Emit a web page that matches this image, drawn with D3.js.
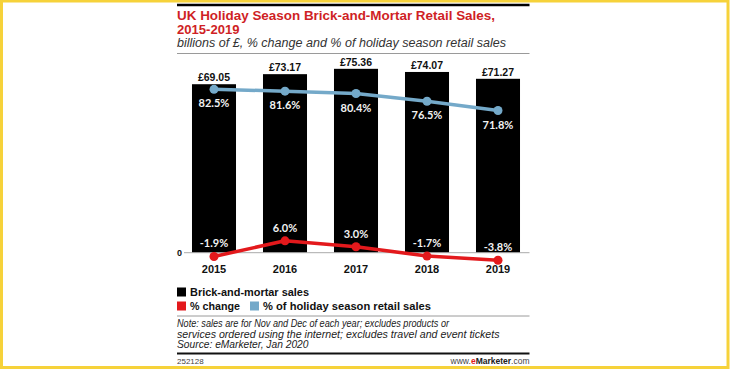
<!DOCTYPE html>
<html>
<head>
<meta charset="utf-8">
<script src="https://cdn.jsdelivr.net/npm/d3@7"></script>
<style>
  body { margin: 0; background: #fff; }
  svg { display: block; font-family: "Liberation Sans", Arial, sans-serif; }
</style>
</head>
<body>
<svg id="chart"></svg>
<script>
const WIDTH = 732;
const HEIGHT = 371;

// Data.
const years = ['2015', '2016', '2017', '2018', '2019'];
const sales = [69.05, 73.17, 75.36, 74.07, 71.27];
const pctChange = [-1.9, 6.0, 3.0, -1.7, -3.8];
const pctOfHoliday = [82.5, 81.6, 80.4, 76.5, 71.8];

const legendItems = [
  {label: 'Brick-and-mortar sales', color: '#000'},
  {label: '% change', color: '#e3191c'},
  {label: '% of holiday season retail sales', color: '#74a9c9'}
];
const noteLines = [
  'Note: sales are for Nov and Dec of each year; excludes products or',
  'services ordered using the internet; excludes travel and event tickets',
  'Source: eMarketer, Jan 2020'
];

const RED = '#e3191c';
const BLUE = '#74a9c9';
const LEFT = 177;
const RIGHT = 529.5;
const BASE_Y = 252.7;

const svg = d3
  .select('#chart')
  .attr('width', WIDTH)
  .attr('height', HEIGHT)
  .attr('viewBox', `0 0 ${WIDTH} ${HEIGHT}`);

// Yellow frame round the picture.
svg.append('rect')
  .attr('x', 1.5).attr('y', 1)
  .attr('width', 726.5).attr('height', 366.5)
  .attr('fill', 'none')
  .attr('stroke', '#f6d23a')
  .attr('stroke-width', 3);

// Header.
svg.append('line')
  .attr('x1', LEFT).attr('x2', RIGHT)
  .attr('y1', 5).attr('y2', 5)
  .attr('stroke', '#000').attr('stroke-width', 2.5);

const title = svg.append('g').attr('fill', '#cf1f25').attr('font-weight', 'bold').attr('font-size', 12.5);
title.append('text').attr('x', LEFT).attr('y', 19.5)
  .attr('textLength', 318).attr('lengthAdjust', 'spacingAndGlyphs')
  .text('UK Holiday Season Brick-and-Mortar Retail Sales,');
title.append('text').attr('x', LEFT).attr('y', 33.5)
  .attr('textLength', 62.5).attr('lengthAdjust', 'spacingAndGlyphs')
  .text('2015-2019');

svg.append('text')
  .attr('x', LEFT).attr('y', 47)
  .attr('font-size', 12.5).attr('font-style', 'italic').attr('fill', '#333')
  .attr('textLength', 329).attr('lengthAdjust', 'spacingAndGlyphs')
  .text('billions of £, % change and % of holiday season retail sales');

svg.append('line')
  .attr('x1', LEFT).attr('x2', RIGHT)
  .attr('y1', 53.5).attr('y2', 53.5)
  .attr('stroke', '#9a9a9a').attr('stroke-width', 1);

// Scales.
const x = d3.scaleBand()
  .domain(years)
  .range([178.5, 533.5])
  .paddingInner(0.38)
  .paddingOuter(0.19);

const yBar = d3.scaleLinear().domain([0, 80]).range([BASE_Y, 57.5]);
const yPct = d3.scaleLinear().domain([0, 100]).range([BASE_Y, 54.7]);
const cx = d => x(d) + x.bandwidth() / 2;

// Bars.
svg.append('g')
  .selectAll('rect')
  .data(years)
  .join('rect')
  .attr('x', d => x(d))
  .attr('y', (d, i) => yBar(sales[i]))
  .attr('width', x.bandwidth())
  .attr('height', (d, i) => BASE_Y - yBar(sales[i]))
  .attr('fill', '#000');

svg.append('g')
  .attr('font-size', 10.5).attr('font-weight', 'bold').attr('fill', '#111')
  .attr('text-anchor', 'middle')
  .selectAll('text')
  .data(years)
  .join('text')
  .attr('x', cx)
  .attr('y', (d, i) => yBar(sales[i]) - 3)
  .text((d, i) => '£' + sales[i].toFixed(2));

// Baseline axis.
const axis = svg.append('g')
  .attr('transform', `translate(0,${BASE_Y})`)
  .call(d3.axisBottom(x).tickSize(0).tickPadding(13));
axis.select('.domain').remove();
axis.append('line')
  .attr('x1', 184).attr('x2', RIGHT)
  .attr('stroke', '#aaa').attr('stroke-width', 1);
axis.selectAll('.tick text')
  .attr('font-family', '"Liberation Sans", Arial, sans-serif')
  .attr('font-size', 11).attr('font-weight', 'bold').attr('fill', '#111');

svg.append('text')
  .attr('x', 179.5).attr('y', BASE_Y + 3.5)
  .attr('text-anchor', 'middle')
  .attr('font-size', 9).attr('font-weight', 'bold').attr('fill', '#111')
  .text('0');

// Lines.
function drawSeries(values, color, labelDy) {
  const line = d3.line()
    .x((d, i) => cx(years[i]))
    .y(d => yPct(d));
  const g = svg.append('g');
  g.append('path')
    .datum(values)
    .attr('d', line)
    .attr('fill', 'none')
    .attr('stroke', color)
    .attr('stroke-width', 3.5)
    .attr('stroke-linejoin', 'round');
  g.selectAll('circle')
    .data(values)
    .join('circle')
    .attr('cx', (d, i) => cx(years[i]))
    .attr('cy', d => yPct(d))
    .attr('r', 4.5)
    .attr('fill', color);
  g.selectAll('text')
    .data(values)
    .join('text')
    .attr('x', (d, i) => cx(years[i]))
    .attr('y', d => yPct(d) + labelDy)
    .attr('text-anchor', 'middle')
    .attr('font-family', 'Lato, sans-serif')
    .attr('font-weight', 'bold')
    .attr('font-size', 11)
    .attr('fill', '#f2f2f2')
    .text(d => d.toFixed(1) + '%');
}

drawSeries(pctOfHoliday, BLUE, 18);
drawSeries(pctChange, RED, -9);

// Legend.
const legend = svg.append('g').attr('font-size', 11).attr('font-weight', 'bold').attr('fill', '#111');
const legendPos = [[177, 287.5, 119], [177, 301.5, 50], [250, 301.5, 168]];
legendItems.forEach((item, i) => {
  const [lx, ly, w] = legendPos[i];
  legend.append('rect')
    .attr('x', lx).attr('y', ly)
    .attr('width', 9).attr('height', 9)
    .attr('fill', item.color);
  legend.append('text')
    .attr('x', lx + 13).attr('y', ly + 8.5)
    .attr('textLength', w).attr('lengthAdjust', 'spacingAndGlyphs')
    .text(item.label);
});

// Notes.
svg.append('line')
  .attr('x1', LEFT).attr('x2', RIGHT)
  .attr('y1', 316).attr('y2', 316)
  .attr('stroke', '#9a9a9a').attr('stroke-width', 1);

const noteWidths = [272, 322.5, 131.5];
svg.append('g')
  .attr('font-size', 10.5).attr('font-style', 'italic').attr('fill', '#222')
  .selectAll('text')
  .data(noteLines)
  .join('text')
  .attr('x', LEFT)
  .attr('y', (d, i) => 327 + i * 10.5)
  .attr('textLength', (d, i) => noteWidths[i])
  .attr('lengthAdjust', 'spacingAndGlyphs')
  .text(d => d);

svg.append('line')
  .attr('x1', LEFT).attr('x2', RIGHT)
  .attr('y1', 353.5).attr('y2', 353.5)
  .attr('stroke', '#111').attr('stroke-width', 2);

svg.append('text')
  .attr('x', LEFT).attr('y', 363.5)
  .attr('font-size', 8).attr('fill', '#444')
  .text('252128');

const brand = svg.append('text')
  .attr('x', RIGHT).attr('y', 363.5)
  .attr('text-anchor', 'end')
  .attr('font-size', 8.5).attr('fill', '#444');
brand.append('tspan').text('www.');
brand.append('tspan').attr('fill', RED).attr('font-weight', 'bold').text('e');
brand.append('tspan').attr('fill', '#222').attr('font-weight', 'bold').text('Marketer');
brand.append('tspan').text('.com');
</script>
</body>
</html>
